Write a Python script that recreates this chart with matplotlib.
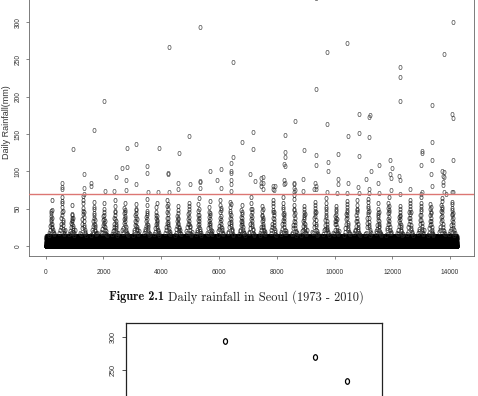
import numpy as np
import matplotlib
matplotlib.use("Agg")
import matplotlib.pyplot as plt
from matplotlib.path import Path
from matplotlib.markers import MarkerStyle
from matplotlib.font_manager import FontProperties

# ---------------- data (read / estimated from the picture) ----------------
n_days = 14245                      # length of the daily record (index on x axis)
threshold_mm = 70                   # red reference line

# light-rain amounts (mm) forming the solid band near zero (estimated)
light_mm = [0, 0, 4, 0, 9, 0, 1, 13, 0, 6, 0, 2, 11, 0, 3, 0, 7, 0, 1, 12,
            0, 5, 0, 10, 2, 0, 8, 0, 14, 0]

season_doy = [100, 125, 145, 160, 170, 177, 183, 188, 193, 198, 203, 208,
              213, 218, 224, 232, 242, 255, 270, 290]
season_shift = [0, 10, -12, 6, 18, -6, 12, -15, 4, 20, -9, 8, -3, 15, -14, 2,
                11, -7, 19, -11, 5, 14, -4, 9, -16, 3, 17, -8, 7, -13, 13, 0,
                -10, 16, -5, 10, -15, 6, 0]
season_mm = [
    [15, 18, 22, 27, 34, 40, 47, 36, 44, 30, 26, 48, 62, 38, 29, 24, 21, 19, 17, 16],
    [17, 21, 25, 30, 37, 45, 57, 66, 52, 60, 41, 35, 47, 32, 28, 23, 20, 18, 16, 22],
    [16, 20, 18, 26, 31, 38, 43, 55, 35, 29, 41, 33, 27, 37, 24, 22, 19, 17, 15, 21],
    [18, 16, 24, 29, 36, 43, 51, 61, 67, 57, 47, 39, 33, 45, 28, 25, 21, 19, 17, 15],
    [15, 22, 19, 27, 33, 41, 49, 59, 44, 37, 52, 30, 35, 28, 25, 22, 20, 16, 18, 17],
    [19, 17, 23, 28, 35, 40, 46, 58, 42, 49, 36, 31, 27, 33, 26, 21, 18, 16, 20, 15],
    [16, 20, 25, 22, 30, 38, 45, 53, 61, 42, 36, 47, 29, 34, 27, 24, 20, 18, 15, 17],
    [21, 18, 24, 31, 36, 44, 51, 57, 40, 48, 33, 38, 28, 45, 26, 22, 19, 17, 16, 15],
    [15, 19, 22, 28, 34, 41, 48, 56, 39, 44, 50, 32, 27, 36, 25, 23, 21, 18, 16, 20],
    [18, 23, 20, 27, 33, 39, 47, 55, 63, 44, 36, 41, 30, 28, 25, 22, 19, 17, 15, 16],
    [16, 19, 24, 29, 37, 42, 52, 46, 58, 35, 40, 31, 27, 34, 24, 21, 18, 20, 17, 15],
    [17, 22, 26, 31, 38, 46, 54, 61, 49, 43, 37, 56, 32, 29, 27, 24, 20, 18, 16, 19],
    [15, 18, 23, 27, 33, 40, 48, 44, 53, 36, 31, 38, 29, 26, 24, 21, 19, 17, 22, 16],
    [20, 17, 25, 30, 36, 43, 50, 58, 46, 39, 54, 34, 30, 27, 25, 22, 18, 16, 15, 19],
    [16, 21, 19, 28, 35, 41, 47, 56, 64, 42, 37, 49, 33, 29, 26, 23, 20, 18, 17, 15],
    [18, 16, 24, 29, 34, 39, 45, 52, 41, 60, 36, 31, 44, 28, 25, 21, 19, 17, 16, 20],
    [15, 20, 23, 27, 32, 38, 46, 55, 62, 48, 40, 35, 51, 30, 26, 24, 21, 18, 16, 17],
    [17, 19, 26, 31, 37, 44, 52, 59, 47, 41, 56, 36, 32, 29, 27, 23, 20, 22, 15, 16],
    [16, 22, 20, 28, 33, 39, 48, 43, 55, 37, 31, 45, 28, 34, 25, 22, 19, 17, 18, 15],
    [19, 17, 24, 30, 36, 42, 49, 57, 65, 45, 39, 33, 50, 30, 27, 23, 21, 18, 16, 15],
    [15, 18, 22, 26, 34, 40, 47, 54, 42, 50, 35, 38, 30, 27, 26, 22, 20, 17, 19, 16],
    [18, 21, 25, 30, 38, 45, 53, 61, 48, 57, 42, 36, 32, 46, 28, 24, 21, 19, 16, 15],
    [16, 19, 23, 29, 35, 43, 50, 58, 66, 52, 44, 38, 33, 41, 29, 25, 22, 18, 17, 20],
    [17, 16, 24, 28, 34, 41, 48, 55, 63, 68, 50, 44, 37, 32, 28, 24, 20, 19, 15, 18],
    [15, 20, 22, 27, 33, 39, 46, 53, 41, 49, 36, 31, 43, 29, 25, 23, 19, 17, 16, 21],
    [19, 18, 25, 31, 37, 44, 51, 59, 47, 55, 40, 35, 30, 45, 27, 22, 20, 18, 15, 16],
    [16, 21, 23, 28, 35, 42, 49, 57, 64, 46, 39, 52, 34, 30, 26, 23, 21, 17, 19, 15],
    [18, 16, 22, 29, 33, 40, 47, 54, 43, 38, 50, 33, 29, 36, 25, 22, 19, 18, 16, 20],
    [15, 19, 24, 30, 36, 43, 52, 60, 48, 56, 41, 37, 45, 31, 28, 24, 21, 19, 17, 16],
    [17, 22, 20, 27, 34, 41, 48, 55, 62, 45, 38, 50, 33, 29, 26, 23, 20, 16, 18, 15],
    [16, 18, 25, 31, 38, 46, 54, 63, 51, 59, 43, 37, 32, 47, 28, 25, 22, 19, 15, 17],
    [20, 17, 23, 28, 35, 42, 50, 44, 57, 39, 34, 46, 30, 27, 26, 22, 19, 17, 16, 15],
    [15, 21, 24, 29, 36, 44, 51, 58, 66, 53, 45, 39, 34, 48, 29, 25, 21, 18, 17, 19],
    [18, 16, 22, 27, 33, 39, 46, 53, 42, 49, 36, 31, 40, 28, 25, 22, 20, 17, 15, 16],
    [16, 19, 25, 30, 37, 45, 53, 61, 49, 57, 43, 38, 33, 46, 28, 24, 21, 19, 18, 15],
    [17, 20, 23, 29, 35, 42, 50, 58, 65, 47, 41, 54, 35, 31, 27, 23, 20, 18, 16, 21],
    [15, 18, 24, 28, 34, 41, 49, 56, 44, 52, 38, 33, 45, 30, 26, 22, 19, 17, 16, 15],
    [19, 22, 26, 32, 39, 47, 55, 64, 52, 60, 46, 40, 35, 49, 30, 25, 22, 20, 17, 16],
    [16, 20, 23, 28, 35, 43, 51, 59, 48, 56, 42, 37, 32, 44, 28, 24, 21, 18, 15, 17],
]

# heavy-rain days (day index, mm)
heavy_day = [2014, 1667, 937, 2799, 3111, 1330, 2649, 2799, 2431, 2764, 3507, 3507,
             577, 577, 555, 1330, 1573, 1573, 2069, 2371, 2788, 3125, 3542, 1330,
             5333, 4281, 6469, 4965, 3910, 4604, 6792, 7187, 7174, 6469, 6399, 6399,
             6399, 6420, 6399, 6399, 4222, 4235, 5681, 6052, 5913, 4594, 4594, 4999,
             5347, 5330, 5347, 6063, 7083, 7233, 7521, 7521, 7510, 3875, 4257,
             7470, 7470, 7470, 7870, 7870, 8580, 8580, 8580,
             9368, 10437, 9722, 9361, 8621, 9733, 10844, 11214, 11190, 8274, 10472,
             10833, 11201, 8285, 8285, 8264, 8274, 8958, 9368, 9368, 9757, 9768,
             10104, 10844, 11549, 11250, 8264, 8285, 8264, 8910, 8597, 9340, 9368,
             9290, 9368, 10104, 10104, 10451, 10823, 11090, 11195, 11493, 7937,
             7900, 8621, 8910, 9722, 10100, 10444, 10830, 11200, 11540,
             14108, 13806, 12278, 12278, 12278, 13368, 14080, 14090, 13368, 13021,
             13040, 13378, 14108, 11910, 12000, 13007, 11920, 11940, 12233, 12278,
             13344, 13780, 13760, 13780, 13750, 13770, 13390, 12615, 11965, 13021,
             13010, 13794, 13870, 14083, 14110, 12257, 13720]
heavy_mm = [194, 155, 130, 131, 137, 96, 105, 106, 92, 88, 107, 98,
            84, 79, 77, 78, 85, 81, 74, 74, 75, 83, 73, 70,
            293, 267, 247, 147, 132, 124, 140, 153, 130, 119, 111, 101,
            98, 88, 83, 74, 98, 97, 101, 103, 89, 84, 76, 83,
            87, 86, 78, 78, 96, 87, 92, 85, 76, 72, 72,
            91, 85, 80, 80, 76, 84, 78, 73,
            332.8, 272, 260, 210, 168, 163, 177, 176, 173, 149, 147,
            151, 146, 126, 119, 110, 107, 128, 122, 109, 113, 101,
            123, 120, 109, 100, 88, 85, 83, 90, 83, 85, 80,
            76, 76, 90, 83, 85, 79, 90, 76, 84, 80,
            75, 75, 74, 72, 71, 71, 71, 71, 71,
            300, 258, 240, 226, 194, 189, 177, 171, 140, 127,
            125, 115, 115, 115, 105, 109, 96, 91, 94, 88,
            96, 99, 94, 92, 86, 82, 81, 76, 75, 73,
            70, 72, 70, 72, 73, 70, 100]

# second panel (partial): three large values
panel2_year = [1987, 2001, 2006]
panel2_mm = [294, 270, 233]

caption_bold = 'Figure 2.1'
caption_rest = ' Daily rainfall in Seoul (1973 - 2010)'

# ---------------- build series ----------------
days_all = np.arange(1, n_days + 1)
light_vals = np.resize(np.array(light_mm, dtype=float), n_days)

s_days, s_vals = [], []
for k, row in enumerate(season_mm):
    for doy, v in zip(season_doy, row):
        s_days.append(round(365.25 * k) + doy + season_shift[k])
        s_vals.append(v)

# elliptical "o" marker (picture is slightly compressed horizontally)
circ = Path.unit_circle()
ell = Path(circ.vertices * np.array([0.72, 1.0]), circ.codes)
mk = MarkerStyle(ell)

fig = plt.figure(figsize=(4.78, 3.96), dpi=100)

# ---------------- top panel ----------------
ax = fig.add_axes([29.3 / 478, 1 - 255.9 / 396, 444.3 / 478, 268.1 / 396])
kw = dict(ls='none', marker=mk, ms=3.1, mfc='none', mew=0.45)
ax.plot(days_all, light_vals, mec='black', **kw)
ax.plot(s_days, s_vals, mec='#222222', **kw)
ax.plot(heavy_day, heavy_mm, mec='#3a3a3a', **kw)
ax.axhline(threshold_mm, color='#dc7673', lw=1.0, zorder=5)

ax.set_xlim(-569, 14815)
ax.set_ylim(-13.3, 346.1)
ax.set_xticks([0, 2000, 4000, 6000, 8000, 10000, 12000, 14000])
ax.set_yticks([0, 50, 100, 150, 200, 250, 300])
tick_fp = FontProperties(family=['Liberation Sans Narrow', 'Liberation Sans'], size=4.8)
ax.tick_params(axis='both', direction='out', length=2.3, width=0.5, colors='#555',
               labelcolor='#333')
ax.tick_params(axis='x', pad=7)
ax.tick_params(axis='y', pad=3)
for lab in ax.get_xticklabels():
    lab.set_fontproperties(tick_fp)
for lab in ax.get_yticklabels():
    lab.set_fontproperties(tick_fp)
    lab.set_rotation(90)
    lab.set_va('center')
    lab.set_ha('right')
for sp in ax.spines.values():
    sp.set_color('#666')
    sp.set_linewidth(0.6)

fig.text(6.5 / 478, 1 - 121.8 / 396, 'Daily Rainfall(mm)', rotation=90,
         ha='center', va='center', fontsize=6.5, family='Liberation Sans',
         color='#333')

# ---------------- caption (bold part + regular part, centred together) ----------------
cap_size = 8.9
cy = 1 - 296.7 / 396
t1 = fig.text(0, cy, caption_bold, ha='left', va='center', fontsize=cap_size,
              family='cmb10', color='#111')
t2 = fig.text(0, cy, caption_rest, ha='left', va='center', fontsize=cap_size,
              family='cmr10', color='#222')
fig.canvas.draw()
r = fig.canvas.get_renderer()
w1 = t1.get_window_extent(r).width
w2 = t2.get_window_extent(r).width
x0 = 236.5 - (w1 + w2) / 2
t1.set_x(x0 / 478)
t2.set_x((x0 + w1) / 478)

# ---------------- second (partial) panel ----------------
ax2 = fig.add_axes([126 / 478, (396 - 469) / 396, 256 / 478, 146 / 396])
ax2.plot(panel2_year, panel2_mm, ls='none', marker=mk, ms=4.0, mfc='none',
         mec='black', mew=0.9)
ax2.set_xlim(1971.5, 2011.5)
ax2.set_ylim(100, 321.2)
ax2.set_xticks([])
ax2.set_yticks([250, 300])
ax2.tick_params(axis='y', direction='out', length=3, width=0.6, colors='#333',
                pad=3.5)
for lab in ax2.get_yticklabels():
    lab.set_fontproperties(FontProperties(family='Liberation Sans', size=5.2))
    lab.set_rotation(90)
    lab.set_va('center')
    lab.set_ha('right')
for sp in ax2.spines.values():
    sp.set_color('#222')
    sp.set_linewidth(0.9)

fig.savefig('out.png', dpi=100)
